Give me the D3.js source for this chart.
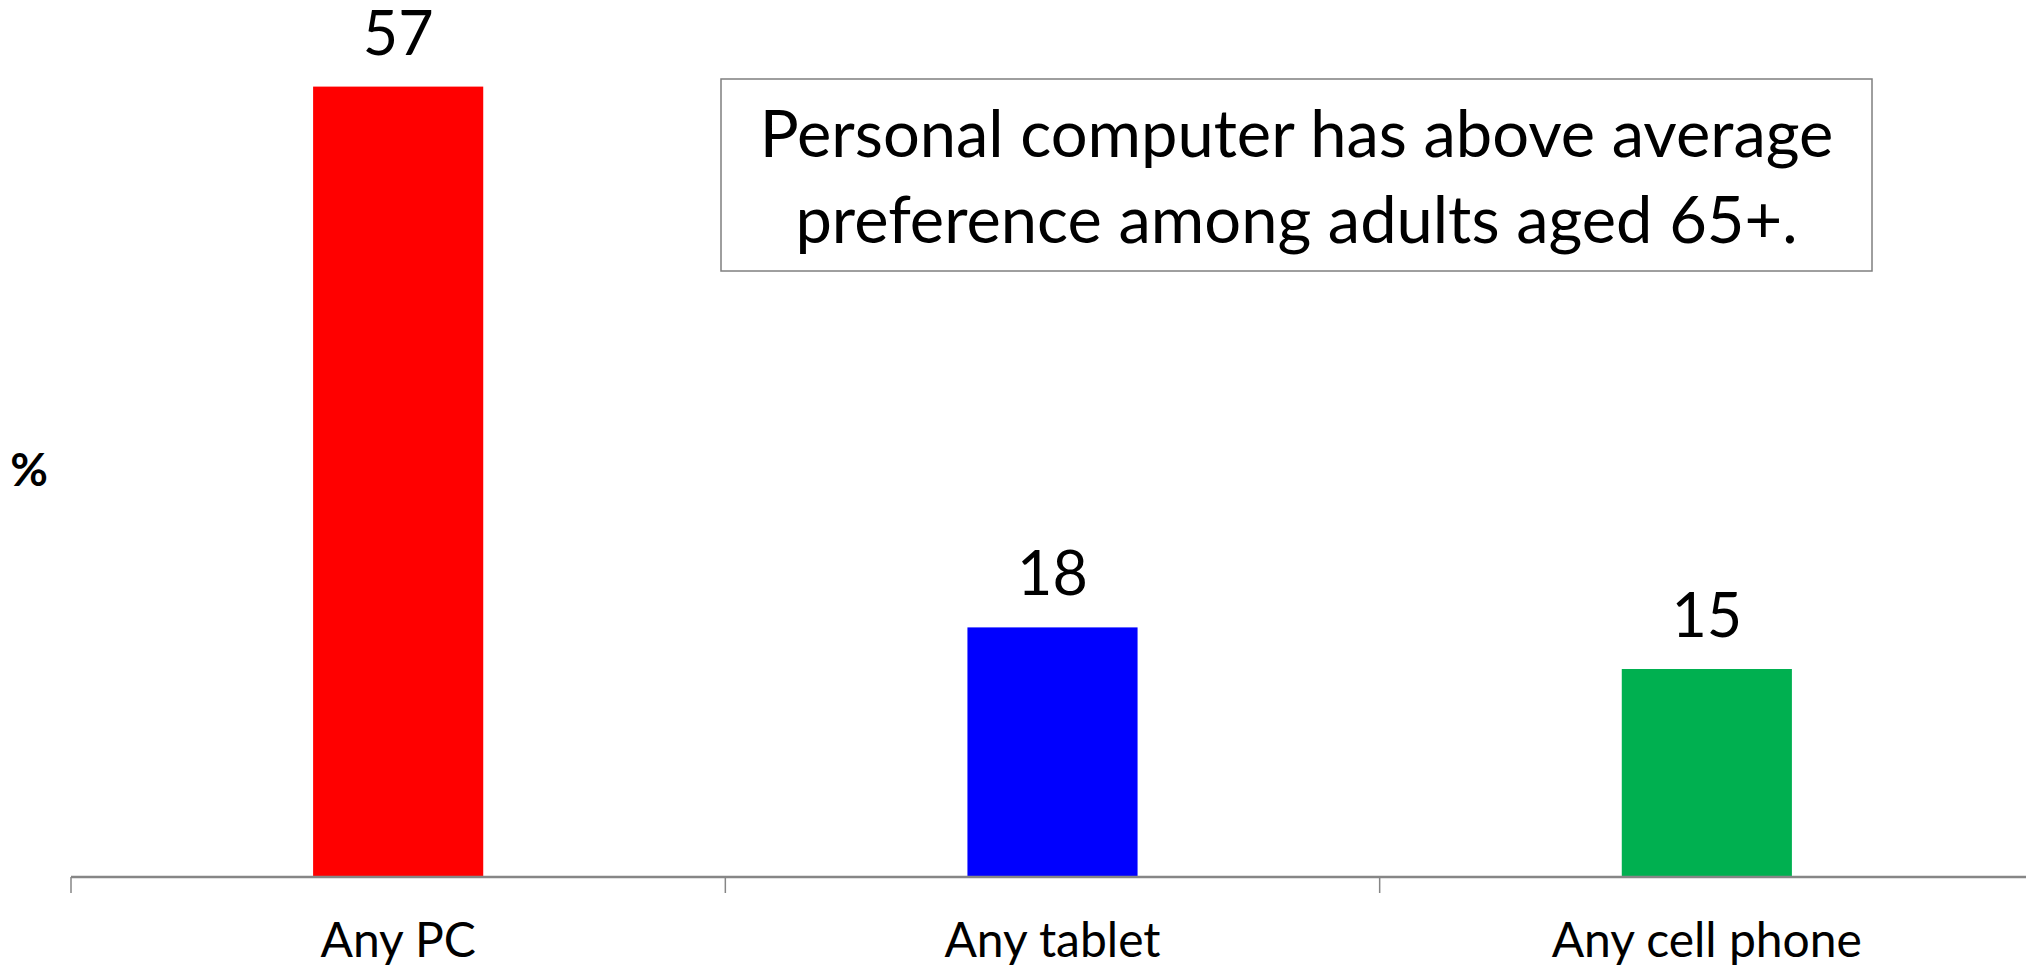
<!DOCTYPE html>
<html>
<head>
<meta charset="utf-8">
<script src="https://cdn.jsdelivr.net/npm/d3@7"></script>
<style>
  html, body { margin: 0; padding: 0; background: #fff; }
  svg { display: block; }
</style>
</head>
<body>
<svg id="chart" width="2026" height="969"></svg>
<script>
const categories = ["Any PC", "Any tablet", "Any cell phone"];
const values = [57, 18, 15];
const colors = ["#ff0000", "#0000ff", "#00b050"];
const yDomain = [0, 60];
const note = ["Personal computer has above average", "preference among adults aged 65+."];
const yLabel = "%";

const svg = d3.select("#chart");
const FONT = "Lato, 'Open Sans', sans-serif";

const x = d3.scaleBand().domain(categories).range([71, 2034]).padding(0);
const y = d3.scaleLinear().domain(yDomain).range([877, 45]);
const barW = x.bandwidth() * 0.26;

// bars
svg.selectAll("rect.bar").data(values).join("rect")
  .attr("class", "bar")
  .attr("x", (d, i) => x(categories[i]) + (x.bandwidth() - barW) / 2)
  .attr("y", d => y(d))
  .attr("width", barW)
  .attr("height", d => y(0) - y(d))
  .attr("fill", (d, i) => colors[i]);

// value labels
svg.selectAll("text.val").data(values).join("text")
  .attr("class", "val")
  .attr("x", (d, i) => x(categories[i]) + x.bandwidth() / 2)
  .attr("y", d => y(d) - 32)
  .attr("text-anchor", "middle")
  .attr("font-family", FONT)
  .attr("font-size", 61)
  .attr("fill", "#000")
  .text(d => d);

// x axis
const axis = d3.axisBottom(x).tickSize(0).tickPadding(0);
const gx = svg.append("g").attr("transform", `translate(0,${y(0)})`).call(axis);
gx.select(".domain").remove();
gx.selectAll(".tick text")
  .attr("y", 80)
  .attr("dy", 0)
  .attr("font-family", FONT)
  .attr("font-size", 48)
  .attr("fill", "#000");

svg.append("line")
  .attr("x1", x.range()[0]).attr("x2", x.range()[1])
  .attr("y1", y(0)).attr("y2", y(0))
  .attr("stroke", "#868686").attr("stroke-width", 2.5);

const bounds = categories.map(c => x(c)).concat([x.range()[1]]);
svg.selectAll("line.tk").data(bounds).join("line")
  .attr("class", "tk")
  .attr("x1", d => d).attr("x2", d => d)
  .attr("y1", y(0)).attr("y2", y(0) + 16)
  .attr("stroke", "#868686").attr("stroke-width", 1.5);

// y label
svg.append("text")
  .attr("x", 29).attr("y", 486)
  .attr("text-anchor", "middle")
  .attr("font-family", FONT)
  .attr("font-weight", "bold")
  .attr("font-size", 46)
  .text(yLabel);

// annotation box
svg.append("rect")
  .attr("x", 721).attr("y", 79)
  .attr("width", 1151).attr("height", 192)
  .attr("fill", "#fff")
  .attr("stroke", "#7f7f7f").attr("stroke-width", 1.5);

svg.selectAll("text.note").data(note).join("text")
  .attr("class", "note")
  .attr("x", 1296.5)
  .attr("y", (d, i) => 157 + i * 86)
  .attr("text-anchor", "middle")
  .attr("font-family", FONT)
  .attr("font-size", 65)
  .attr("fill", "#000")
  .text(d => d);
</script>
</body>
</html>
